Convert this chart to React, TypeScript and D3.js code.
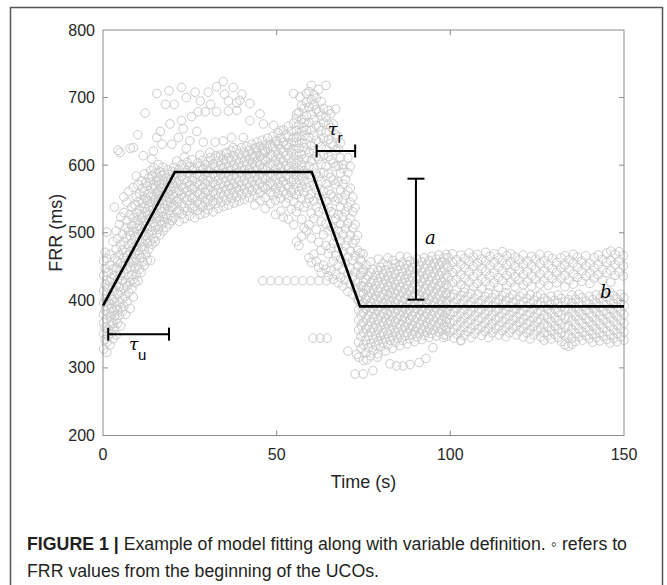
import * as d3 from 'd3'

// FRR samples, grouped per time column: [time (s), FRR values (ms)]
const riseCloud: [number, number[]][] = [
  [0.2, [328, 351, 367, 379, 396, 414, 437, 458]],
  [0.6, [342, 360, 385, 402, 423, 447, 471]],
  [1.1, [323, 338, 372, 391, 409, 430, 462, 501]],
  [1.5, [347, 356, 381, 399, 418, 441]],
  [2.0, [334, 362, 377, 395, 427, 452, 468]],
  [2.4, [351, 369, 388, 406, 433]],
  [2.9, [343, 366, 384, 401, 419, 446, 487]],
  [3.3, [358, 377, 398, 414, 437, 462, 538]],
  [3.8, [349, 372, 391, 423, 448, 476, 503]],
  [4.2, [366, 386, 409, 431, 458, 491]],
  [4.7, [378, 397, 420, 444, 467, 512]],
  [5.1, [362, 389, 412, 437, 455, 482, 523]],
  [5.6, [384, 403, 429, 451, 474, 498]],
  [6.0, [391, 418, 440, 463, 487, 530, 553]],
  [6.5, [379, 406, 426, 452, 471, 508]],
  [6.9, [398, 421, 447, 466, 493, 518, 545]],
  [7.4, [412, 434, 457, 481, 502, 561]],
  [7.8, [388, 427, 449, 472, 496, 527]],
  [8.3, [417, 438, 463, 485, 510, 538]],
  [8.7, [405, 431, 456, 478, 501, 522, 567]],
  [9.2, [426, 447, 469, 493, 514, 541]],
  [9.6, [438, 461, 482, 507, 529, 553, 584]],
  [10.1, [429, 452, 474, 498, 519, 546, 571]],
  [10.5, [446, 468, 489, 511, 534, 558]],
  [11.0, [441, 463, 487, 506, 527, 549, 577]],
  [11.4, [457, 479, 501, 523, 544, 566]],
  [11.9, [452, 475, 496, 518, 537, 561, 587]],
  [12.3, [468, 489, 510, 531, 552, 574]],
  [12.8, [459, 484, 505, 526, 548, 569]],
  [13.2, [476, 497, 519, 539, 558, 581]],
  [13.7, [459, 488, 510, 533, 554, 575, 592]],
  [14.1, [483, 503, 524, 545, 566, 584]],
  [14.6, [492, 514, 535, 553, 571, 596]],
  [15.0, [487, 509, 529, 549, 568, 588]],
  [15.5, [499, 521, 540, 559, 577]],
  [15.9, [505, 524, 546, 563, 582, 601]],
  [16.4, [497, 517, 536, 555, 573, 590]],
  [16.8, [512, 531, 550, 566, 585]],
  [17.3, [503, 523, 543, 560, 578, 597]],
  [17.7, [516, 536, 554, 571, 588]],
  [18.2, [508, 527, 547, 564, 581]],
  [18.6, [521, 541, 558, 575, 593]],
  [19.1, [513, 533, 551, 569, 586]],
  [19.5, [526, 545, 562, 579]],
  [19.9, [518, 538, 556, 573, 591]],
]

const plateauCloud: [number, number[]][] = [
  [20.4, [522, 539, 553, 566, 581, 597]],
  [21.2, [531, 546, 559, 574, 588, 606]],
  [21.9, [517, 534, 550, 563, 578, 593]],
  [22.7, [528, 543, 557, 571, 584, 601]],
  [23.4, [521, 537, 552, 566, 579, 596, 612]],
  [24.2, [532, 548, 561, 575, 589, 604]],
  [24.9, [525, 541, 555, 569, 583, 598]],
  [25.7, [536, 551, 564, 577, 592, 608]],
  [26.4, [522, 539, 554, 568, 581, 595]],
  [27.2, [533, 547, 560, 574, 587, 603]],
  [27.9, [527, 542, 557, 571, 585, 599, 615]],
  [28.7, [538, 552, 566, 579, 593, 607]],
  [29.4, [529, 545, 559, 572, 586, 601]],
  [30.2, [534, 549, 563, 577, 590, 605]],
  [30.9, [541, 555, 569, 582, 596, 611]],
  [31.7, [531, 547, 561, 575, 588, 602]],
  [32.4, [543, 557, 571, 584, 598, 614]],
  [33.2, [536, 551, 565, 578, 592, 606]],
  [33.9, [545, 559, 573, 587, 600, 615]],
  [34.7, [539, 554, 568, 581, 595, 609]],
  [35.4, [548, 562, 576, 589, 603, 619]],
  [36.2, [541, 557, 570, 584, 597, 611]],
  [36.9, [551, 565, 579, 592, 606, 621]],
  [37.7, [544, 559, 573, 586, 600, 614]],
  [38.4, [553, 567, 581, 595, 608, 623]],
  [39.2, [547, 562, 576, 589, 603, 617]],
  [39.9, [556, 570, 584, 597, 611, 626]],
  [40.7, [549, 564, 578, 592, 605, 619]],
  [41.4, [559, 573, 587, 600, 614, 628]],
  [42.2, [552, 567, 581, 594, 608, 622]],
  [42.9, [562, 576, 589, 603, 616, 631]],
  [43.7, [541, 555, 570, 583, 597, 611, 625]],
  [44.4, [564, 578, 592, 605, 619, 634]],
  [45.2, [548, 559, 573, 586, 600, 613, 628]],
  [45.9, [567, 581, 594, 608, 622, 637]],
  [46.7, [536, 552, 566, 580, 593, 607, 621]],
  [47.4, [569, 584, 597, 611, 625, 640]],
  [48.2, [543, 560, 574, 588, 602, 616, 630]],
  [48.9, [556, 571, 586, 600, 614, 628, 643]],
  [49.7, [527, 548, 565, 579, 593, 607, 621, 635]],
  [50.4, [558, 573, 587, 601, 616, 631, 648]],
  [51.2, [532, 551, 567, 582, 596, 610, 624, 640]],
  [51.9, [523, 561, 576, 590, 605, 619, 634, 652]],
  [52.7, [544, 557, 571, 585, 599, 614, 629, 645]],
  [53.4, [520, 552, 567, 581, 595, 610, 626, 642, 658]],
  [54.2, [535, 560, 575, 589, 603, 618, 633, 650]],
  [54.9, [512, 546, 564, 579, 594, 609, 624, 641, 662]],
  [55.7, [487, 531, 556, 572, 587, 602, 617, 634, 651, 669]],
  [56.4, [481, 540, 562, 578, 593, 608, 625, 643, 660, 678]],
  [57.2, [495, 520, 551, 568, 584, 600, 616, 633, 650, 668, 688]],
  [57.9, [507, 538, 560, 576, 592, 609, 626, 644, 663, 684]],
]

const peakCloud: [number, number[]][] = [
  [58.6, [503, 544, 567, 588, 611, 632, 652, 673, 693, 706]],
  [59.3, [463, 512, 551, 574, 598, 619, 641, 663, 686, 709]],
  [60.0, [456, 492, 529, 557, 582, 606, 629, 652, 675, 697, 718]],
  [60.7, [468, 521, 547, 571, 596, 621, 644, 667, 689, 704]],
  [61.4, [458, 505, 538, 563, 588, 613, 637, 659, 682, 699]],
  [62.1, [449, 486, 531, 556, 583, 609, 634, 657, 679, 712]],
  [62.8, [441, 474, 517, 549, 576, 601, 627, 651, 673, 694]],
  [63.5, [452, 497, 535, 562, 589, 615, 640, 663, 684]],
  [64.2, [446, 481, 513, 546, 572, 598, 623, 648, 671, 718]],
  [64.9, [436, 469, 503, 537, 563, 588, 613, 638, 661, 681]],
  [65.6, [444, 477, 509, 531, 557, 582, 608, 632, 656, 676]],
  [66.3, [431, 458, 484, 507, 529, 553, 578, 603, 629, 661]],
  [67.0, [439, 466, 494, 521, 547, 572, 598, 622, 645, 683]],
  [67.7, [426, 452, 478, 503, 527, 551, 576, 599, 624, 642]],
  [68.4, [434, 461, 488, 513, 538, 563, 588, 611, 633]],
  [69.1, [421, 446, 472, 497, 523, 548, 572, 595, 601]],
  [69.8, [430, 455, 481, 506, 531, 556, 579]],
  [70.5, [413, 439, 464, 489, 514, 538, 562, 589, 611]],
  [71.2, [424, 448, 473, 497, 521, 545, 566, 598]],
  [71.9, [409, 434, 459, 484, 507, 531, 553]],
  [72.6, [418, 442, 466, 489, 512, 537]],
  [73.3, [402, 427, 451, 474, 496]],
  [74.1, [412, 437, 461, 470]],
  [74.9, [421, 446, 469]],
]

const recoveryCloud: [number, number[]][] = [
  [73.6, [316, 338, 356, 371, 386, 399]],
  [74.3, [329, 347, 363, 378, 393, 407, 421, 441, 458]],
  [75.0, [311, 334, 352, 367, 382, 396, 410, 427, 443]],
  [75.7, [322, 341, 358, 373, 388, 402, 416, 431, 452]],
  [76.4, [330, 347, 362, 377, 391, 405, 419, 436]],
  [77.1, [318, 336, 353, 368, 383, 397, 411, 426, 441, 457]],
  [77.8, [326, 343, 359, 374, 388, 402, 416, 430, 446]],
  [78.5, [334, 349, 364, 379, 393, 407, 422, 437]],
  [79.2, [321, 340, 356, 371, 385, 399, 413, 428, 444, 461]],
  [79.9, [331, 347, 362, 377, 391, 405, 419, 434, 449]],
  [80.6, [337, 352, 367, 381, 395, 409, 424, 439, 455]],
  [81.3, [325, 343, 358, 373, 387, 401, 415, 430, 445]],
  [82.0, [334, 350, 365, 379, 393, 407, 421, 436, 452, 463]],
  [82.7, [341, 356, 370, 384, 398, 412, 427, 442]],
  [83.4, [329, 346, 361, 376, 390, 404, 418, 433, 448, 459]],
  [84.1, [338, 353, 368, 382, 396, 410, 424, 439, 454]],
  [84.8, [344, 359, 373, 387, 401, 415, 430, 445]],
  [85.5, [333, 349, 364, 378, 392, 406, 420, 435, 451, 465]],
  [86.2, [341, 356, 370, 384, 398, 412, 426, 441, 456]],
  [86.9, [347, 361, 375, 389, 403, 417, 432, 447]],
  [87.6, [336, 352, 367, 381, 395, 409, 423, 438, 453, 464]],
  [88.3, [343, 358, 372, 386, 400, 414, 429, 444, 458]],
  [89.0, [349, 363, 377, 391, 405, 419, 434, 449]],
  [89.7, [339, 354, 369, 383, 397, 411, 425, 440, 455]],
  [90.4, [346, 360, 374, 388, 402, 416, 431, 446, 461]],
  [91.1, [351, 365, 379, 393, 407, 421, 436, 451]],
  [91.8, [342, 357, 371, 385, 399, 413, 427, 442, 457]],
  [92.5, [348, 362, 376, 390, 404, 418, 433, 448, 463]],
  [93.2, [353, 367, 381, 395, 409, 423, 438, 453]],
  [93.9, [345, 359, 373, 387, 401, 415, 429, 444, 459]],
  [94.6, [351, 364, 378, 392, 406, 420, 435, 450, 465]],
  [95.3, [356, 369, 383, 397, 411, 425, 440, 455]],
  [96.0, [347, 361, 375, 389, 403, 417, 431, 446, 461]],
  [96.7, [353, 366, 380, 394, 408, 422, 437, 452, 467]],
  [97.4, [358, 371, 385, 399, 413, 427, 442, 457]],
  [98.1, [349, 363, 377, 391, 405, 419, 433, 448, 463]],
  [98.8, [355, 368, 382, 396, 410, 424, 439, 454, 468]],
]

const lateUpper: [number, number[]][] = [
  [99.4, [419, 434, 449, 463]], [100.6, [426, 441, 456, 469]],
  [101.8, [416, 431, 446, 460]], [103.0, [423, 438, 453, 467]],
  [104.2, [418, 433, 448, 462]], [105.4, [427, 442, 457, 470]],
  [106.6, [420, 435, 450, 464]], [107.8, [425, 440, 455, 468]],
  [109.0, [417, 432, 447, 461]], [110.2, [428, 443, 458, 471]],
  [111.4, [421, 436, 451, 465]], [112.6, [426, 441, 456, 469]],
  [113.8, [419, 434, 449, 463]], [115.0, [429, 444, 459, 472]],
  [116.2, [422, 437, 452, 466]], [117.4, [427, 442, 457, 469]],
  [118.6, [420, 435, 450, 464]], [119.8, [430, 445, 460]],
  [121.0, [423, 438, 453, 467]], [122.2, [428, 443, 458]],
  [123.4, [421, 436, 451, 465]], [124.6, [431, 446, 461]],
  [125.8, [424, 439, 454, 468]], [127.0, [429, 444, 459]],
  [128.2, [422, 437, 452, 466]], [129.4, [432, 447, 462]],
  [130.6, [426, 441, 456]], [131.8, [433, 448, 463]],
  [133.0, [420, 437, 452, 466]], [134.2, [430, 445, 460]],
  [135.4, [424, 439, 455, 468]], [136.6, [434, 449, 464]],
  [137.8, [428, 443, 458]], [139.0, [436, 451, 466]],
  [140.2, [425, 440, 455]], [141.4, [433, 448, 463]],
  [142.6, [438, 453, 467]], [143.8, [430, 446, 461]],
  [145.0, [441, 456, 470]], [146.2, [427, 444, 459, 473]],
  [147.4, [437, 453, 468]], [148.6, [442, 458, 472]],
  [149.8, [436, 451, 466]],
]

const lateLower: [number, number[]][] = [
  [99.0, [347, 360, 373, 386, 399, 411]], [100.0, [353, 366, 379, 392, 405]],
  [101.0, [344, 357, 370, 383, 396, 409]], [102.0, [350, 363, 376, 389, 402]],
  [103.0, [341, 355, 368, 381, 394, 407]], [104.0, [348, 361, 374, 387, 400, 412]],
  [105.0, [354, 367, 380, 393, 406]], [106.0, [345, 358, 371, 384, 397, 410]],
  [107.0, [351, 364, 377, 390, 403]], [108.0, [357, 370, 383, 396, 409]],
  [109.0, [348, 361, 374, 387, 400]], [110.0, [354, 367, 380, 393, 406]],
  [111.0, [345, 359, 372, 385, 398, 411]], [112.0, [352, 365, 378, 391, 404]],
  [113.0, [358, 371, 384, 397, 409]], [114.0, [349, 362, 375, 388, 401]],
  [115.0, [355, 368, 381, 394, 407]], [116.0, [346, 360, 373, 386, 399, 411]],
  [117.0, [352, 365, 378, 391, 404]], [118.0, [358, 371, 384, 397, 408]],
  [119.0, [349, 362, 375, 388, 401]], [120.0, [355, 368, 381, 394, 406]],
  [121.0, [346, 359, 372, 385, 398, 410]], [122.0, [352, 365, 378, 391, 403]],
  [123.0, [343, 356, 369, 382, 395, 408]], [124.0, [349, 362, 375, 388, 400]],
  [125.0, [355, 368, 381, 394, 406]], [126.0, [346, 359, 372, 385, 397, 409]],
  [127.0, [341, 352, 365, 378, 391, 403]], [128.0, [348, 361, 374, 387, 399]],
  [129.0, [343, 355, 368, 381, 394, 406]], [130.0, [350, 362, 375, 388, 400]],
  [131.0, [345, 357, 370, 383, 396, 408]], [132.0, [339, 352, 365, 378, 391, 403]],
  [133.0, [334, 347, 360, 373, 386, 398]], [134.0, [332, 349, 362, 375, 388, 401]],
  [135.0, [335, 344, 357, 370, 383, 396, 408]], [136.0, [339, 351, 364, 377, 390, 402]],
  [137.0, [346, 358, 371, 384, 397, 409]], [138.0, [341, 353, 366, 379, 392, 404]],
  [139.0, [348, 360, 373, 386, 399]], [140.0, [343, 355, 368, 381, 394, 406]],
  [141.0, [338, 350, 363, 376, 389, 401]], [142.0, [345, 357, 370, 383, 396, 408]],
  [143.0, [340, 352, 365, 378, 391, 403]], [144.0, [347, 359, 372, 385, 398, 410]],
  [145.0, [342, 354, 367, 380, 393, 405]], [146.0, [337, 349, 362, 375, 388, 400, 412]],
  [147.0, [344, 356, 369, 382, 395, 407]], [148.0, [339, 351, 364, 377, 390, 402]],
  [149.0, [346, 358, 371, 384, 397, 409]], [150.0, [341, 353, 366, 379, 392, 404]],
]

// loose points outside the dense bands: [time, FRR]
const upperScatter: [number, number][] = [
  [4.3, 622], [4.9, 619], [7.8, 625], [8.7, 626], [10, 645], [11.6, 614], [12.1, 677],
  [14.0, 609], [14.5, 621], [15.5, 706], [15.5, 641], [16.5, 650], [17.0, 631], [18, 690],
  [19.0, 710], [19.3, 661], [19.8, 631], [20.5, 690], [21.7, 641], [22.6, 715], [22.6, 666],
  [23.1, 654], [24, 700], [24, 625], [25.0, 636], [25.5, 672], [26.5, 708], [27, 650],
  [27.4, 679], [28, 695], [28.9, 634], [29.4, 679], [30.3, 708], [30.8, 619], [31, 690],
  [32.3, 634], [32.7, 679], [32.7, 716], [33.2, 612], [34.6, 724], [34.6, 636], [35, 705],
  [35.6, 617], [36.1, 695], [36.1, 680], [37.0, 641], [37.5, 626], [37.5, 715], [38.5, 692],
  [38.5, 681], [39.4, 696], [40, 705], [40.4, 641], [42.3, 691], [42.3, 666], [43.2, 612],
  [44.2, 626], [45.2, 676], [46.2, 661], [46.2, 617], [47.1, 631], [49.1, 659], [50.0, 636],
  [51.0, 651], [52.9, 631], [54.9, 706], [56.7, 701], [55.8, 676], [57.7, 656], [55.8, 641],
]

const flatRows: [number, number][] = [
  [46.0, 429], [48.3, 429], [50.6, 429], [52.9, 429], [55.2, 429], [57.5, 429],
  [59.8, 429], [62.1, 429], [64.4, 429],
  [60.5, 344], [62.5, 344], [64.5, 344],
]

const lowScatter: [number, number][] = [
  [72.6, 291], [74.9, 291], [77.7, 296], [70.5, 325], [73, 320], [76, 312], [79, 316],
  [82.6, 306], [84.5, 303], [86.4, 303], [88.4, 305], [91, 308], [93, 314],
  [95, 330], [98, 345], [103, 340],
]

// fitted model: start, end of rise, start of fall, end of fall, end
const modelT = [0, 20.7, 60.1, 74, 150]
const modelFRR = [392, 590, 590, 391, 391]

const xTicks = [0, 50, 100, 150]
const yTicks = [200, 300, 400, 500, 600, 700, 800]

// annotation bars in data units
const aBar = { t: 90.1, lo: 401, hi: 580 }
const tauR = { t0: 61.5, t1: 72.6, v: 621 }
const tauU = { t0: 1.5, t1: 19.0, v: 350 }

const flatten = (cols: [number, number[]][]): [number, number][] =>
  cols.flatMap(([t, vs]) => vs.map((v) => [t, v] as [number, number]))

export default function App() {
  const W = 667
  const H = 585
  const x = d3.scaleLinear().domain([0, 150]).range([103, 624])
  const y = d3.scaleLinear().domain([200, 800]).range([435.5, 30])

  const points = [
    ...flatten(riseCloud),
    ...flatten(plateauCloud),
    ...flatten(peakCloud),
    ...flatten(recoveryCloud),
    ...flatten(lateUpper),
    ...flatten(lateLower),
    ...upperScatter,
    ...flatRows,
    ...lowScatter,
  ]

  const line = d3
    .line<number>()
    .x((d) => x(d))
    .y((_, i) => y(modelFRR[i]))
  const axisCol = '#8c8c8c'
  const textCol = '#262626'
  const sans = 'Liberation Sans, Arial, Helvetica, sans-serif'
  const serif = 'DejaVu Serif, Liberation Serif, serif'

  const [x0, x1] = x.range()
  const [yb, yt] = y.range()

  return (
    <svg width={W} height={H} style={{ position: 'absolute', left: 0, top: 0 }}>
      <rect x={0} y={0} width={W} height={H} fill="#fff" />
      <rect x={10.5} y={7.5} width={652} height={620} fill="none" stroke="#555" strokeWidth={1.5} />

      {/* scatter */}
      <g fill="none" stroke="#cbcbcb" strokeWidth={1}>
        {points.map(([t, v], i) => (
          <circle key={i} cx={x(t)} cy={y(v)} r={4.3} />
        ))}
      </g>

      {/* axes box with inward ticks */}
      <g stroke={axisCol} strokeWidth={1} fill="none">
        <rect x={x0} y={yt} width={x1 - x0} height={yb - yt} />
        {xTicks.slice(1, -1).map((t) => (
          <g key={t}>
            <line x1={x(t)} x2={x(t)} y1={yb} y2={yb - 5} />
            <line x1={x(t)} x2={x(t)} y1={yt} y2={yt + 5} />
          </g>
        ))}
        {yTicks.slice(1, -1).map((v) => (
          <g key={v}>
            <line x1={x0} x2={x0 + 5} y1={y(v)} y2={y(v)} />
            <line x1={x1} x2={x1 - 5} y1={y(v)} y2={y(v)} />
          </g>
        ))}
      </g>
      <g fontFamily={sans} fontSize={16} fill={textCol}>
        {xTicks.map((t) => (
          <text key={t} x={x(t)} y={yb + 19} textAnchor="middle" dominantBaseline="central">
            {t}
          </text>
        ))}
        {yTicks.map((v) => (
          <text key={v} x={x0 - 8} y={y(v)} textAnchor="end" dominantBaseline="central">
            {v}
          </text>
        ))}
        <text x={(x0 + x1) / 2} y={yb + 46} textAnchor="middle" dominantBaseline="central" fontSize={18}>
          Time (s)
        </text>
        <text
          transform={`translate(56,${(yb + yt) / 2}) rotate(-90)`}
          textAnchor="middle"
          dominantBaseline="central"
          fontSize={18}
        >
          FRR (ms)
        </text>
      </g>

      {/* model fit */}
      <path d={line(modelT) ?? ''} fill="none" stroke="#000" strokeWidth={2.6} strokeLinejoin="miter" />

      {/* annotations */}
      <g stroke="#000" strokeWidth={2}>
        <line x1={x(aBar.t)} x2={x(aBar.t)} y1={y(aBar.hi)} y2={y(aBar.lo)} />
        <line x1={x(aBar.t) - 8.5} x2={x(aBar.t) + 8.5} y1={y(aBar.hi)} y2={y(aBar.hi)} />
        <line x1={x(aBar.t) - 8.5} x2={x(aBar.t) + 8.5} y1={y(aBar.lo)} y2={y(aBar.lo)} />
        {[tauR, tauU].map((b, i) => (
          <g key={i}>
            <line x1={x(b.t0)} x2={x(b.t1)} y1={y(b.v)} y2={y(b.v)} />
            <line x1={x(b.t0)} x2={x(b.t0)} y1={y(b.v) - 6.5} y2={y(b.v) + 6.5} />
            <line x1={x(b.t1)} x2={x(b.t1)} y1={y(b.v) - 6.5} y2={y(b.v) + 6.5} />
          </g>
        ))}
      </g>
      <g fill="#000">
        <text x={425} y={244} fontFamily={serif} fontStyle="italic" fontSize={18}>a</text>
        <text x={600} y={298} fontFamily={serif} fontStyle="italic" fontSize={18}>b</text>
        <text x={328} y={135} fontFamily={serif} fontStyle="italic" fontSize={17}>τ</text>
        <text x={337.5} y={143} fontFamily={sans} fontSize={15}>r</text>
        <text x={129} y={350} fontFamily={serif} fontStyle="italic" fontSize={17}>τ</text>
        <text x={138} y={360} fontFamily={sans} fontSize={15}>u</text>
      </g>

      {/* caption */}
      <g fontFamily={sans} fontSize={17.5} fill="#231f20">
        <text x={27} y={550} textLength={600} lengthAdjust="spacingAndGlyphs">
          <tspan fontWeight="bold">FIGURE 1 |</tspan> Example of model fitting along with variable definition. ◦ refers to
        </text>
        <text x={27} y={577} textLength={352} lengthAdjust="spacingAndGlyphs">
          FRR values from the beginning of the UCOs.
        </text>
      </g>
    </svg>
  )
}
